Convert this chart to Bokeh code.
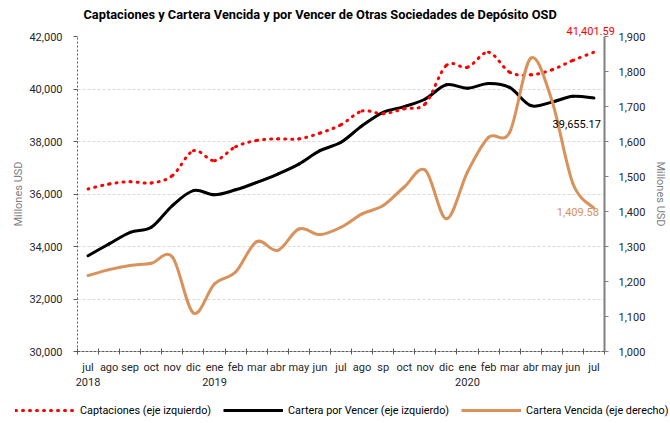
from bokeh.plotting import figure
from bokeh.models import (Range1d, LinearAxis, FixedTicker, NumeralTickFormatter,
                          Legend, LegendItem, Label, Title, ColumnDataSource)
from bokeh.embed import file_html
from bokeh.resources import INLINE

# ---------------- data ----------------
months = ["jul", "ago", "sep", "oct", "nov", "dic", "ene", "feb", "mar", "abr", "may", "jun",
          "jul", "ago", "sp", "oct", "nov", "dic", "ene", "feb", "mar", "abr", "may", "jun", "jul"]
years = ["2018", "", "", "", "", "", "2019", "", "", "", "", "",
         "", "", "", "", "", "", "2020", "", "", "", "", "", ""]

captaciones = [36190, 36380, 36470, 36420, 36700, 37650, 37270, 37800, 38040, 38100, 38100, 38320,
               38640, 39160, 39060, 39250, 39440, 40900, 40830, 41400, 40640, 40540, 40730, 41090,
               41401.59]
cartera_por_vencer = [33650, 34100, 34540, 34730, 35560, 36130, 35970, 36160, 36440, 36760, 37140,
                      37650, 37970, 38600, 39110, 39330, 39620, 40160, 40030, 40210, 40060, 39370,
                      39500, 39720, 39655.17]
cartera_vencida = [1217, 1234, 1246, 1252, 1270, 1110, 1193, 1227, 1314, 1289, 1350, 1334, 1355,
                   1393, 1417, 1470, 1518, 1379, 1513, 1612, 1626, 1838, 1718, 1480, 1409.58]

left_ticks = [30000, 32000, 34000, 36000, 38000, 40000, 42000]
right_ticks = [1000, 1100, 1200, 1300, 1400, 1500, 1600, 1700, 1800, 1900]

title_text = "Captaciones y Cartera Vencida y por Vencer de Otras Sociedades de Depósito OSD"
series_names = ["Captaciones (eje izquierdo)", "Cartera por Vencer (eje izquierdo)",
                "Cartera Vencida (eje derecho)"]
axis_title = "Millones USD"

# ---------------- style ----------------
FONT = "Roboto"
RED = "#FF0000"
BLACK = "#000000"
ORANGE = "#D9925B"
TXT = "#262626"
W = 670

xs = list(range(len(months)))


def smoothed(values):
    """Bezier segments through the data points (Excel-style smoothed line)."""
    n = len(values)
    cols = {k: [] for k in ("x0", "y0", "x1", "y1", "cx0", "cy0", "cx1", "cy1")}
    for i in range(n - 1):
        ia = i - 1 if i > 0 else i
        idd = i + 2 if i + 2 < n else i + 1
        cols["x0"].append(xs[i])
        cols["y0"].append(values[i])
        cols["x1"].append(xs[i + 1])
        cols["y1"].append(values[i + 1])
        cols["cx0"].append(xs[i] + (xs[i + 1] - xs[ia]) / 6)
        cols["cy0"].append(values[i] + (values[i + 1] - values[ia]) / 6)
        cols["cx1"].append(xs[i + 1] - (xs[idd] - xs[i]) / 6)
        cols["cy1"].append(values[i + 1] - (values[idd] - values[i]) / 6)
    return ColumnDataSource(cols)


p = figure(width=W, height=396, output_backend="svg", toolbar_location=None, title=None,
           x_range=Range1d(-0.5, len(months) - 0.5), y_range=Range1d(30000, 42000),
           min_border_left=77, min_border_right=64, min_border_top=36, min_border_bottom=45)
p.extra_y_ranges = {"right": Range1d(1000, 1900)}
p.outline_line_color = None

# x axis
xa = p.xaxis[0]
xa.ticker = FixedTicker(ticks=xs, minor_ticks=[i - 0.5 for i in range(len(months) + 1)])
xa.major_label_overrides = {i: (m + ("\n" + y if y else "")) for i, (m, y) in enumerate(zip(months, years))}
xa.major_tick_in = 0
xa.major_tick_out = 0
xa.minor_tick_in = 3
xa.minor_tick_out = 3
xa.minor_tick_line_color = "#595959"
xa.axis_line_color = "#595959"
xa.axis_line_dash = "3 1"
xa.major_label_text_font = FONT
xa.major_label_text_font_size = "11px"
xa.major_label_text_color = TXT
xa.major_label_standoff = 6
p.xgrid.visible = False

# left axis
ya = p.yaxis[0]
ya.ticker = FixedTicker(ticks=left_ticks)
ya.formatter = NumeralTickFormatter(format="0,0")
ya.axis_line_color = "#595959"
ya.axis_line_dash = "2 2"
ya.major_tick_in = 0
ya.major_tick_out = 4
ya.major_tick_line_color = "#595959"
ya.minor_tick_line_color = None
ya.major_label_text_font = FONT
ya.major_label_text_font_size = "11px"
ya.major_label_text_color = TXT
ya.major_label_standoff = 11
ya.axis_label = axis_title
ya.axis_label_text_font = FONT
ya.axis_label_text_font_size = "11px"
ya.axis_label_text_font_style = "normal"
ya.axis_label_text_color = "#808080"
ya.axis_label_standoff = 1

p.ygrid.ticker = FixedTicker(ticks=left_ticks)
p.ygrid.grid_line_color = "#D9D9D9"
p.ygrid.grid_line_dash = "3 2"

# right axis
ra = LinearAxis(y_range_name="right", ticker=FixedTicker(ticks=right_ticks),
                formatter=NumeralTickFormatter(format="0,0"))
ra.axis_line_color = "#808080"
ra.axis_line_width = 2
ra.major_tick_in = 0
ra.major_tick_out = 4
ra.major_tick_line_color = "#808080"
ra.minor_tick_line_color = None
ra.major_label_text_font = FONT
ra.major_label_text_font_size = "11px"
ra.major_label_text_color = TXT
ra.major_label_standoff = 10
ra.axis_label = axis_title
ra.axis_label_text_font = FONT
ra.axis_label_text_font_size = "11px"
ra.axis_label_text_font_style = "normal"
ra.axis_label_text_color = "#808080"
ra.axis_label_standoff = 6
p.add_layout(ra, "right")

# smoothed lines
bz = dict(x0="x0", y0="y0", x1="x1", y1="y1", cx0="cx0", cy0="cy0", cx1="cx1", cy1="cy1")
p.bezier(source=smoothed(cartera_por_vencer), line_color=BLACK, line_width=3,
         line_cap="round", **bz)
p.bezier(source=smoothed(captaciones), line_color=RED, line_width=3, line_dash="1 6",
         line_cap="round", **bz)
p.bezier(source=smoothed(cartera_vencida), line_color=ORANGE, line_width=3, line_cap="round",
         y_range_name="right", **bz)

# data labels inside the frame
last = len(months) - 1
p.add_layout(Label(x=last, y=cartera_por_vencer[-1], text=f"{cartera_por_vencer[-1]:,.2f}",
                   text_color=BLACK, text_font=FONT, text_font_size="11px", text_align="right",
                   text_baseline="middle", x_offset=7, y_offset=-26))
p.add_layout(Label(x=last, y=cartera_vencida[-1], y_range_name="right",
                   text=f"{cartera_vencida[-1]:,.2f}", text_color=ORANGE, text_font=FONT,
                   text_font_size="11px", text_align="right", text_baseline="middle",
                   x_offset=5, y_offset=-4))

# value label above the frame (first panel above = nearest the frame)
p.add_layout(Title(text=f"{captaciones[-1]:,.2f}", text_color=RED, text_font=FONT,
                   text_font_size="11px", text_font_style="normal", align="left",
                   offset=489, standoff=3), "above")
# main title
p.add_layout(Title(text=title_text, text_color=BLACK, text_font=FONT, text_font_size="12.8px",
                   text_font_style="bold", align="left", offset=6, standoff=3), "above")

# legend strip below the chart (series drawn out of view, only their legend glyphs show)
q = figure(width=W, height=27, output_backend="svg", toolbar_location=None, title=None,
           x_axis_type=None, y_axis_type=None,
           x_range=Range1d(-0.5, len(months) - 0.5), y_range=Range1d(0, 1),
           min_border_left=0, min_border_right=0, min_border_top=0, min_border_bottom=0)
q.outline_line_color = None
q.xgrid.visible = False
q.ygrid.visible = False
l_red = q.line(xs, captaciones, color=RED, line_width=3, line_dash="1 6", line_cap="round")
l_black = q.line(xs, cartera_por_vencer, color=BLACK, line_width=3)
l_orange = q.line(xs, cartera_vencida, color=ORANGE, line_width=3)

legend = Legend(items=[LegendItem(label=series_names[0], renderers=[l_red]),
                       LegendItem(label=series_names[1], renderers=[l_black]),
                       LegendItem(label=series_names[2], renderers=[l_orange])],
                orientation="horizontal", location=(15, 6), glyph_width=60,
                glyph_height=14, label_height=14, label_text_font=FONT,
                label_text_font_size="10.8px", label_text_color=BLACK, spacing=12, padding=0,
                margin=0, label_standoff=5, border_line_color=None, background_fill_alpha=0)
q.add_layout(legend, "center")

open("out.html", "w").write(file_html([p, q], INLINE))
